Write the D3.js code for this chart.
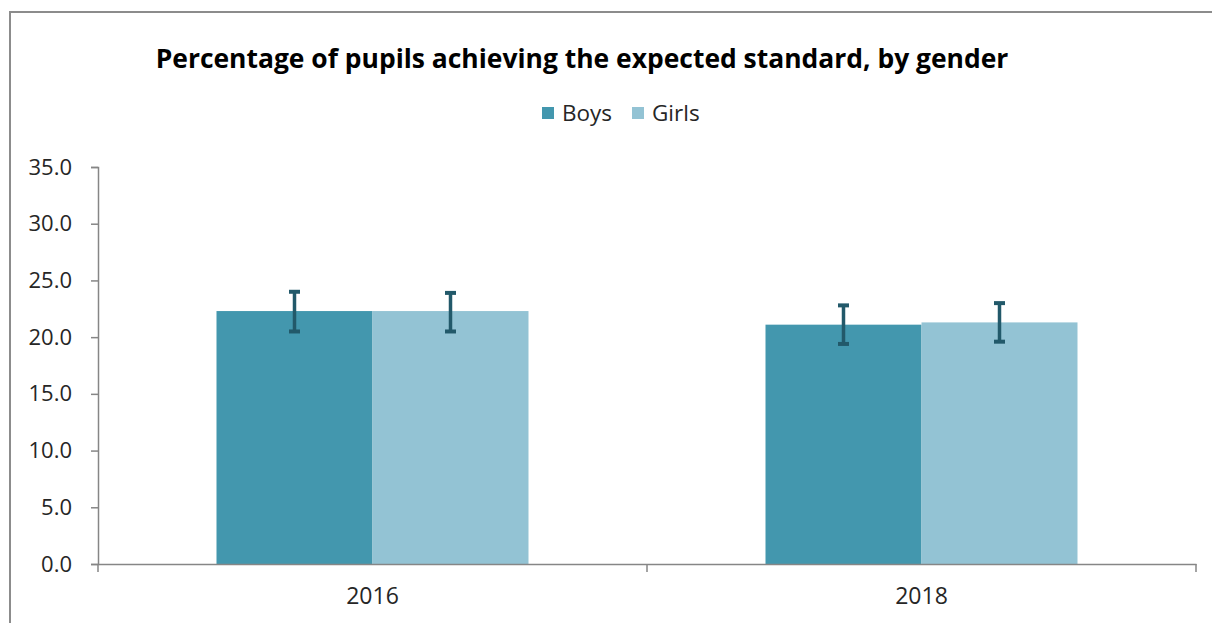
<!DOCTYPE html>
<html><head><meta charset="utf-8">
<script src="https://cdn.jsdelivr.net/npm/d3@7"></script>
<style>body{margin:0;background:#fff}svg{display:block}</style>
</head><body>
<script>
const categories = ["2016", "2018"];
const seriesNames = ["Boys", "Girls"];
const boysValues = [22.3, 21.1];
const girlsValues = [22.3, 21.3];
const boysLower = [20.5, 19.4];
const boysUpper = [24.0, 22.8];
const girlsLower = [20.5, 19.6];
const girlsUpper = [23.9, 23.0];
const yTicks = [0, 5, 10, 15, 20, 25, 30, 35];
const titleText = "Percentage of pupils achieving the expected standard, by gender";

const W = 1212, H = 623;
const colors = {Boys: "#4397ae", Girls: "#93c3d4"};
const errColor = "#22596a";
const axisColor = "#868686";
const font = "'Open Sans', sans-serif";

const svg = d3.select("body").append("svg").attr("width", W).attr("height", H);
svg.append("rect").attr("width", W).attr("height", H).attr("fill", "#fff");
// outer frame
svg.append("path").attr("d", `M10,${H+5} V12 H${W+5}`).attr("fill","none").attr("stroke","#8c8c8c").attr("stroke-width",2);

const plot = {left: 98, right: 1196, top: 167, bottom: 564};
const x0 = d3.scaleBand().domain(categories).range([plot.left, plot.right]).paddingInner(0).paddingOuter(0);
const x1 = d3.scaleBand().domain(seriesNames).range([0, 312]);
const y = d3.scaleLinear().domain([0, 35]).range([plot.bottom, plot.top]);

const data = categories.map((c, i) => ({
  cat: c,
  series: [
    {name: "Boys", v: boysValues[i], lo: boysLower[i], hi: boysUpper[i]},
    {name: "Girls", v: girlsValues[i], lo: girlsLower[i], hi: girlsUpper[i]}
  ]
}));

const groups = svg.selectAll("g.grp").data(data).join("g").attr("class","grp")
  .attr("transform", d => `translate(${x0(d.cat) + (x0.bandwidth() - 312)/2},0)`);
groups.selectAll("rect").data(d => d.series).join("rect")
  .attr("x", d => x1(d.name)).attr("width", x1.bandwidth())
  .attr("y", d => y(d.v)).attr("height", d => y(0) - y(d.v))
  .attr("fill", d => colors[d.name]);

// error bars
const eb = groups.selectAll("g.eb").data(d => d.series).join("g").attr("class","eb")
  .attr("transform", d => `translate(${x1(d.name) + x1.bandwidth()/2},0)`);
eb.append("line").attr("x1",0).attr("x2",0).attr("y1", d => y(d.hi)).attr("y2", d => y(d.lo))
  .attr("stroke", errColor).attr("stroke-width", 3.5);
eb.selectAll("line.cap").data(d => [d.hi, d.lo]).join("line").attr("class","cap")
  .attr("x1",-5.5).attr("x2",5.5).attr("y1", d => y(d)).attr("y2", d => y(d))
  .attr("stroke", errColor).attr("stroke-width", 4);

// y axis
const yAxis = d3.axisLeft(y).tickValues(yTicks).tickFormat(d3.format(".1f")).tickSizeOuter(0).tickSize(7).tickPadding(19);
const yg = svg.append("g").attr("transform", `translate(${plot.left},0)`).call(yAxis);
yg.select(".domain").attr("stroke", axisColor).attr("stroke-width", 1.5);
yg.selectAll(".tick line").attr("stroke", axisColor).attr("stroke-width", 1.5);
yg.selectAll("text").attr("font-family", font).attr("font-size", 22).attr("fill","#262626");

// x axis
const xAxis = d3.axisBottom(x0).tickSize(0).tickPadding(24);
const xg = svg.append("g").attr("transform", `translate(0,${plot.bottom})`).call(xAxis);
xg.select(".domain").attr("stroke", axisColor).attr("stroke-width", 1.5);
xg.selectAll("text").attr("font-family", font).attr("font-size", 23).attr("fill","#262626");
const bounds = categories.map(c => x0(c)).concat([x0(categories[categories.length-1]) + x0.bandwidth()]);
xg.selectAll("line.sep").data(bounds).join("line").attr("class","sep")
  .attr("x1", d => d).attr("x2", d => d).attr("y1", 0).attr("y2", 8)
  .attr("stroke", axisColor).attr("stroke-width", 1.5);

// title
const t = svg.append("text").attr("x", 582).attr("y", 68).attr("text-anchor","middle")
  .attr("font-family", font).attr("font-weight","bold").attr("font-size", 22)
  .attr("fill","#000").text(titleText);
const tw = t.node().getComputedTextLength();
t.attr("font-size", 22 * 853 / tw);

// legend
const legend = svg.append("g");
const legX = [542, 632];
seriesNames.forEach((s, i) => {
  legend.append("rect").attr("x", legX[i]).attr("y", 107).attr("width", 12).attr("height", 12).attr("fill", colors[s]);
  legend.append("text").attr("x", legX[i] + 20).attr("y", 121).attr("font-family", font)
    .attr("font-size", 22.5).attr("fill","#262626").text(s);
});
</script>
</body></html>
